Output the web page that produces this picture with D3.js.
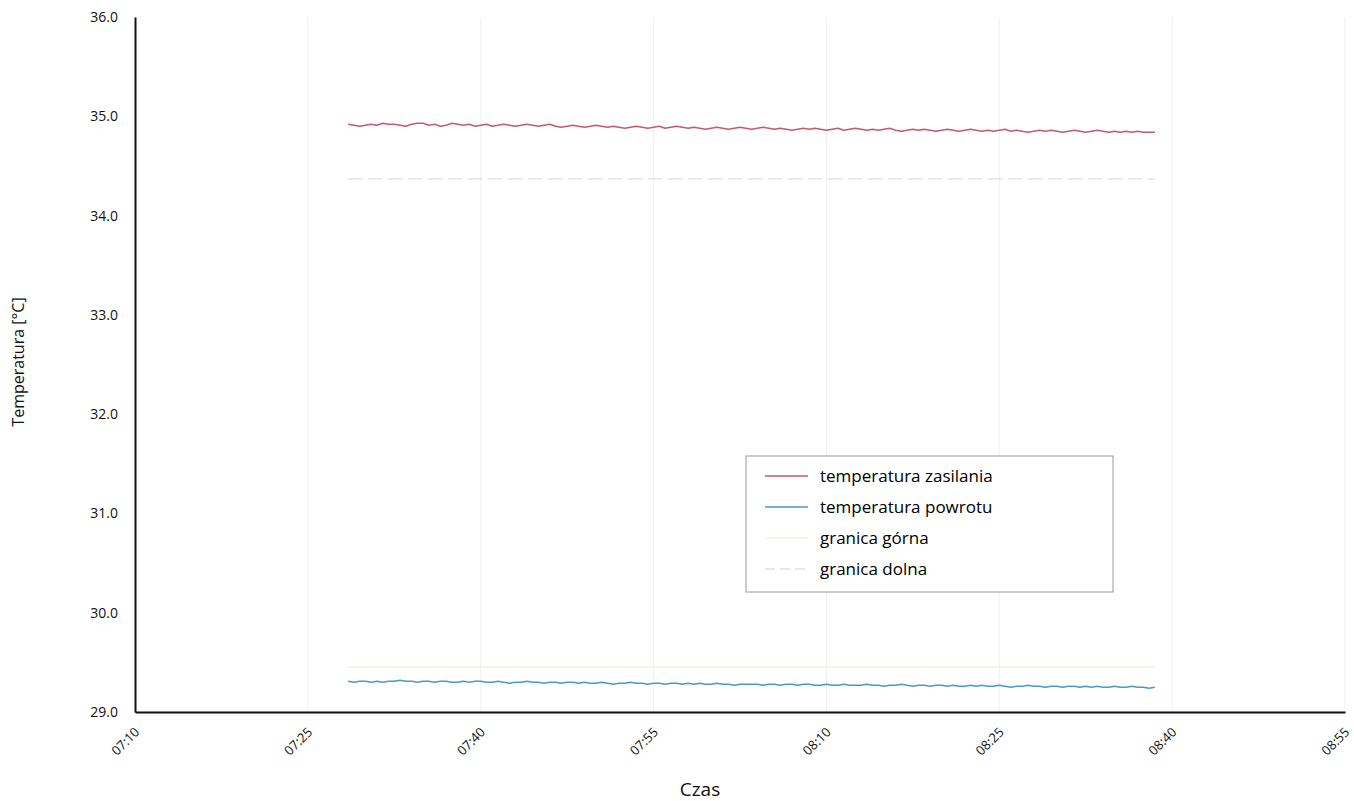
<!DOCTYPE html>
<html>
<head>
<meta charset="utf-8">
<script src="https://cdn.jsdelivr.net/npm/d3@7"></script>
<style>
  html, body { margin: 0; padding: 0; background: #fff; }
  svg { display: block; font-family: "Open Sans", "Noto Sans", sans-serif; }
</style>
</head>
<body>
<svg id="chart" width="1354" height="801"></svg>
<script>
// Measurement: one sample every 30 s, starting 07:28:30
const sampleStart = "07:28:30";
const sampleStepSeconds = 30;

// Supply temperature [°C]
const supplyTemp = [
  34.92,34.91,34.90,34.91,34.92,34.91,34.93,34.92,34.92,34.91,
  34.90,34.92,34.93,34.93,34.91,34.92,34.90,34.91,34.93,34.92,
  34.91,34.92,34.90,34.91,34.92,34.90,34.91,34.92,34.91,34.90,
  34.91,34.92,34.91,34.90,34.91,34.92,34.90,34.89,34.90,34.91,
  34.90,34.89,34.90,34.91,34.90,34.89,34.90,34.89,34.88,34.89,
  34.90,34.89,34.88,34.89,34.90,34.88,34.89,34.90,34.89,34.88,
  34.89,34.88,34.87,34.88,34.89,34.88,34.87,34.88,34.89,34.88,
  34.87,34.88,34.89,34.88,34.87,34.88,34.87,34.86,34.87,34.88,
  34.87,34.88,34.87,34.86,34.87,34.88,34.86,34.87,34.88,34.87,
  34.86,34.87,34.86,34.87,34.88,34.86,34.85,34.86,34.87,34.86,
  34.87,34.86,34.85,34.86,34.87,34.86,34.85,34.86,34.87,34.86,
  34.85,34.86,34.85,34.86,34.87,34.85,34.86,34.85,34.84,34.85,
  34.86,34.85,34.86,34.85,34.84,34.85,34.86,34.85,34.84,34.85,
  34.86,34.85,34.84,34.85,34.84,34.85,34.84,34.85,34.84,34.84,34.84
];

// Return temperature [°C]
const returnTemp = [
  29.31,29.30,29.31,29.31,29.30,29.31,29.30,29.31,29.31,29.32,
  29.31,29.31,29.30,29.31,29.31,29.30,29.31,29.31,29.30,29.30,
  29.31,29.30,29.31,29.31,29.30,29.30,29.31,29.30,29.29,29.30,
  29.30,29.31,29.30,29.30,29.29,29.30,29.30,29.29,29.30,29.30,
  29.29,29.30,29.29,29.29,29.30,29.29,29.28,29.29,29.29,29.30,
  29.29,29.29,29.28,29.29,29.29,29.28,29.29,29.29,29.28,29.29,
  29.28,29.29,29.28,29.28,29.29,29.28,29.28,29.27,29.28,29.28,
  29.28,29.28,29.27,29.28,29.28,29.27,29.28,29.28,29.27,29.28,
  29.28,29.27,29.27,29.28,29.27,29.27,29.28,29.27,29.27,29.27,
  29.28,29.27,29.27,29.26,29.27,29.27,29.28,29.27,29.26,29.27,
  29.27,29.26,29.27,29.27,29.26,29.27,29.26,29.26,29.27,29.26,
  29.27,29.26,29.26,29.27,29.26,29.25,29.26,29.26,29.27,29.26,
  29.26,29.25,29.26,29.26,29.25,29.26,29.26,29.25,29.26,29.25,
  29.26,29.25,29.25,29.26,29.25,29.25,29.26,29.25,29.25,29.24,29.25
];

// Limit lines (constant over the measurement)
const upperLimit = 29.45;
const lowerLimit = 34.37;

// Axis ticks
const xTickLabels = ["07:10","07:25","07:40","07:55","08:10","08:25","08:40","08:55"];
const yTickValues = [29,30,31,32,33,34,35,36];

const seriesNames = ["temperatura zasilania","temperatura powrotu","granica górna","granica dolna"];
const seriesColors = ["#c55a68","#4a9ac7","#fbf1d6","#e0e0e0"];

const parseTime = d3.timeParse("%H:%M:%S");
const parseHM = d3.timeParse("%H:%M");
const t0 = parseTime(sampleStart);
const timeAt = i => d3.timeSecond.offset(t0, i * sampleStepSeconds);

const supplyData = supplyTemp.map((v, i) => ({ t: timeAt(i), v }));
const returnData = returnTemp.map((v, i) => ({ t: timeAt(i), v }));
const tFirst = timeAt(0), tLast = timeAt(supplyTemp.length - 1);
const upperData = [{ t: tFirst, v: upperLimit }, { t: tLast, v: upperLimit }];
const lowerData = [{ t: tFirst, v: lowerLimit }, { t: tLast, v: lowerLimit }];

const svg = d3.select("#chart");
const plot = { left: 135, right: 1345, top: 17, bottom: 712 };

const xTicks = xTickLabels.map(parseHM);
const x = d3.scaleTime()
  .domain([xTicks[0], xTicks[xTicks.length - 1]])
  .range([plot.left, plot.right]);
const y = d3.scaleLinear()
  .domain([29, 36])
  .range([plot.bottom, plot.top]);

// vertical gridlines
svg.append("g")
  .selectAll("line")
  .data(xTicks.slice(1))
  .join("line")
  .attr("x1", d => x(d)).attr("x2", d => x(d))
  .attr("y1", plot.top).attr("y2", plot.bottom)
  .attr("stroke", "#f0f0f0")
  .attr("stroke-width", 1);

const line = d3.line().x(d => x(d.t)).y(d => y(d.v));

// limit lines
svg.append("path").datum(upperData)
  .attr("d", line).attr("fill", "none")
  .attr("stroke", seriesColors[2]).attr("stroke-width", 1.5);
svg.append("path").datum(lowerData)
  .attr("d", line).attr("fill", "none")
  .attr("stroke", seriesColors[3]).attr("stroke-width", 1.3)
  .attr("stroke-dasharray", "14 6");

// measured series
svg.append("path").datum(supplyData)
  .attr("d", line).attr("fill", "none")
  .attr("stroke", seriesColors[0]).attr("stroke-width", 1.5)
  .attr("stroke-linejoin", "round");
svg.append("path").datum(returnData)
  .attr("d", line).attr("fill", "none")
  .attr("stroke", seriesColors[1]).attr("stroke-width", 1.5)
  .attr("stroke-linejoin", "round");

// y axis
const yAxis = svg.append("g")
  .attr("transform", `translate(${plot.left},0)`)
  .call(d3.axisLeft(y).tickValues(yTickValues).tickFormat(d3.format(".1f")).tickSize(0).tickPadding(17));
yAxis.select(".domain").attr("stroke", "#111").attr("stroke-width", 2);
yAxis.selectAll("text")
  .attr("font-size", 14).attr("fill", "#111")
  .attr("font-family", "'Open Sans', sans-serif");

// x axis
const xAxis = svg.append("g")
  .attr("transform", `translate(0,${plot.bottom})`)
  .call(d3.axisBottom(x).tickValues(xTicks).tickFormat(d3.timeFormat("%H:%M")).tickSize(0).tickPadding(8));
xAxis.select(".domain").attr("stroke", "#111").attr("stroke-width", 2.2);
xAxis.selectAll("text")
  .attr("font-size", 13).attr("fill", "#111")
  .attr("font-family", "'Open Sans', sans-serif")
  .attr("text-anchor", "end")
  .attr("dy", "0.35em")
  .attr("transform", "translate(-4,12) rotate(-45)");

// axis titles
svg.append("text")
  .attr("x", 700).attr("y", 796)
  .attr("text-anchor", "middle")
  .attr("font-size", 19).attr("fill", "#111")
  .text("Czas");
svg.append("text")
  .attr("transform", "translate(24,362) rotate(-90)")
  .attr("text-anchor", "middle")
  .attr("font-size", 16).attr("fill", "#111")
  .text("Temperatura [°C]");

// legend
const legend = svg.append("g");
legend.append("rect")
  .attr("x", 746).attr("y", 456).attr("width", 367).attr("height", 136)
  .attr("fill", "#fff").attr("stroke", "#9a9a9a").attr("stroke-width", 1);
const rowY = [476, 507, 538, 569];
seriesNames.forEach((name, i) => {
  legend.append("line")
    .attr("x1", 765).attr("x2", 808)
    .attr("y1", rowY[i]).attr("y2", rowY[i])
    .attr("stroke", seriesColors[i]).attr("stroke-width", 1.6)
    .attr("stroke-dasharray", i === 3 ? "10 5" : null);
  legend.append("text")
    .attr("x", 820).attr("y", rowY[i])
    .attr("dy", "0.35em")
    .attr("font-size", 17).attr("fill", "#000")
    .text(name);
});
</script>
</body>
</html>
